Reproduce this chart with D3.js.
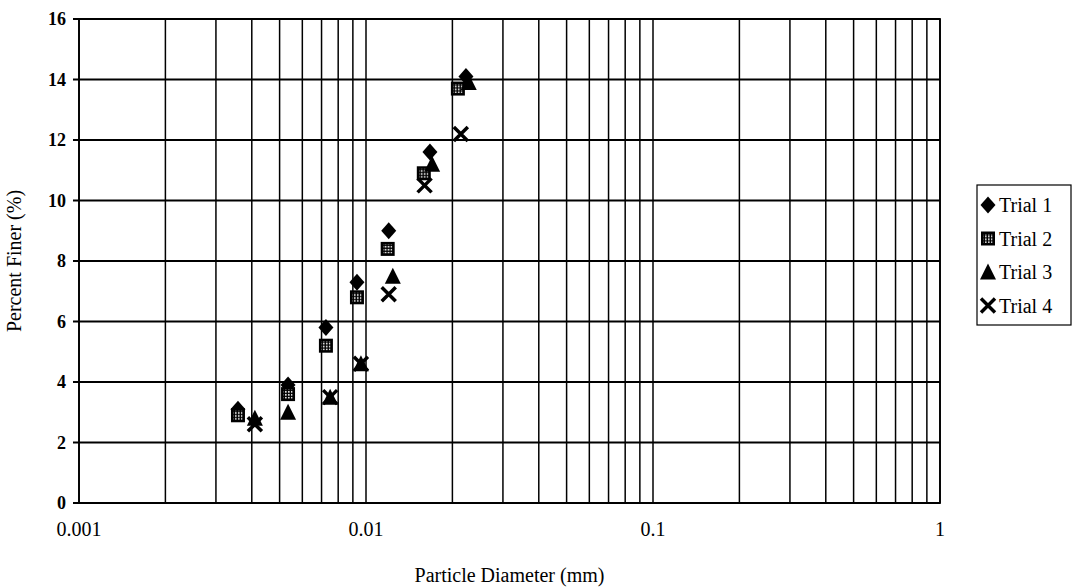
<!DOCTYPE html>
<html>
<head>
<meta charset="utf-8">
<script src="https://cdn.jsdelivr.net/npm/d3@7"></script>
<style>
  body { margin: 0; background: #fff; }
  text { font-family: "Liberation Serif", "DejaVu Serif", serif; fill: #000; }
</style>
</head>
<body>
<div id="chart"></div>
<script>
// particle diameters (mm) and percent finer for each trial
var trial1X = [0.00358, 0.00535, 0.00725, 0.0093, 0.0120, 0.0167, 0.0223];
var trial1Y = [3.1, 3.9, 5.8, 7.3, 9.0, 11.6, 14.1];
var trial2X = [0.00358, 0.00535, 0.00725, 0.0093, 0.0119, 0.0159, 0.0209];
var trial2Y = [2.9, 3.6, 5.2, 6.8, 8.4, 10.9, 13.7];
var trial3X = [0.0041, 0.00535, 0.0075, 0.0096, 0.0124, 0.0170, 0.0228];
var trial3Y = [2.8, 3.0, 3.5, 4.6, 7.5, 11.2, 13.9];
var trial4X = [0.0041, 0.0075, 0.0096, 0.0120, 0.0160, 0.0214];
var trial4Y = [2.6, 3.5, 4.6, 6.9, 10.5, 12.2];

var seriesNames = ["Trial 1", "Trial 2", "Trial 3", "Trial 4"];
var yTicks = [0, 2, 4, 6, 8, 10, 12, 14, 16];
var xTickLabels = [0.001, 0.01, 0.1, 1];

var series = [
  {name: seriesNames[0], shape: "diamond", xs: trial1X, ys: trial1Y},
  {name: seriesNames[1], shape: "square", xs: trial2X, ys: trial2Y},
  {name: seriesNames[2], shape: "triangle", xs: trial3X, ys: trial3Y},
  {name: seriesNames[3], shape: "cross", xs: trial4X, ys: trial4Y}
];

var margin = {top: 19, right: 133, bottom: 84, left: 79},
    width = 1073 - margin.left - margin.right,
    height = 587 - margin.top - margin.bottom;

var svg = d3.select("#chart").append("svg")
    .attr("width", 1073)
    .attr("height", 587);

// white dots pattern for the Trial 2 squares
var pat = svg.append("defs").append("pattern")
    .attr("id", "chk")
    .attr("width", 3).attr("height", 3)
    .attr("patternUnits", "userSpaceOnUse");
pat.append("rect").attr("width", 3).attr("height", 3).attr("fill", "#000");
pat.append("rect").attr("width", 1.6).attr("height", 1.6).attr("fill", "#fff");

var g = svg.append("g").attr("transform", "translate(" + margin.left + "," + margin.top + ")");

var x = d3.scaleLog().domain([0.001, 1]).range([0, width]);
var y = d3.scaleLinear().domain([0, 16]).range([height, 0]);

// vertical grid at every log tick
g.append("g")
  .selectAll("line")
  .data(x.ticks())
  .enter().append("line")
    .attr("x1", function(d) { return x(d); })
    .attr("x2", function(d) { return x(d); })
    .attr("y1", 0)
    .attr("y2", height)
    .attr("stroke", "#000")
    .attr("stroke-width", 1.5);

// horizontal grid
g.append("g")
  .selectAll("line")
  .data(yTicks)
  .enter().append("line")
    .attr("x1", -6)
    .attr("x2", width)
    .attr("y1", function(d) { return y(d); })
    .attr("y2", function(d) { return y(d); })
    .attr("stroke", "#000")
    .attr("stroke-width", 1.8);

// frame
g.append("rect")
  .attr("width", width).attr("height", height)
  .attr("fill", "none").attr("stroke", "#000").attr("stroke-width", 1.8);

// y labels
g.append("g")
  .selectAll("text")
  .data(yTicks)
  .enter().append("text")
    .attr("x", -13)
    .attr("y", function(d) { return y(d); })
    .attr("dy", "0.35em")
    .attr("text-anchor", "end")
    .attr("font-size", 18)
    .attr("font-weight", "bold")
    .text(function(d) { return d; });

// x labels
g.append("g")
  .selectAll("text")
  .data(xTickLabels)
  .enter().append("text")
    .attr("x", function(d) { return x(d); })
    .attr("y", height + 33)
    .attr("text-anchor", "middle")
    .attr("font-size", 20)
    .text(function(d) { return d; });

g.append("text")
  .attr("x", width / 2)
  .attr("y", height + 79)
  .attr("text-anchor", "middle")
  .attr("font-size", 20)
  .text("Particle Diameter (mm)");

g.append("text")
  .attr("transform", "translate(" + (-58) + "," + (height / 2) + ") rotate(-90)")
  .attr("text-anchor", "middle")
  .attr("font-size", 20)
  .text("Percent Finer (%)");

function drawMark(sel, shape) {
  if (shape === "diamond") {
    sel.append("path").attr("d", "M0,-8.5L7.5,0L0,8.5L-7.5,0Z").attr("fill", "#000");
  } else if (shape === "square") {
    sel.append("rect").attr("x", -7).attr("y", -7).attr("width", 14).attr("height", 14)
      .attr("fill", "#000");
    sel.append("rect").attr("x", -4.5).attr("y", -4.5).attr("width", 9).attr("height", 9)
      .attr("fill", "url(#chk)");
  } else if (shape === "triangle") {
    sel.append("path").attr("d", "M0,-8.5L8,7.5L-8,7.5Z").attr("fill", "#000");
  } else {
    sel.append("path").attr("d", "M-7,-7L7,7M7,-7L-7,7")
      .attr("stroke", "#000").attr("stroke-width", 3.5).attr("fill", "none");
  }
}

series.forEach(function(s) {
  var pts = s.xs.map(function(v, i) { return [v, s.ys[i]]; });
  g.append("g")
    .selectAll("g")
    .data(pts)
    .enter().append("g")
      .attr("transform", function(d) { return "translate(" + x(d[0]) + "," + y(d[1]) + ")"; })
      .each(function() { drawMark(d3.select(this), s.shape); });
});

// legend
var lg = svg.append("g").attr("transform", "translate(977,185)");
lg.append("rect")
  .attr("width", 94).attr("height", 140)
  .attr("fill", "#fff").attr("stroke", "#000").attr("stroke-width", 1.2);

var item = lg.selectAll("g.item")
  .data(series)
  .enter().append("g")
    .attr("class", "item")
    .attr("transform", function(d, i) { return "translate(11," + (20 + i * 33.5) + ")"; })
    .each(function(d) { drawMark(d3.select(this), d.shape); });

item.append("text")
  .attr("x", 11)
  .attr("dy", "0.35em")
  .attr("font-size", 20)
  .text(function(d) { return d.name; });
</script>
</body>
</html>
